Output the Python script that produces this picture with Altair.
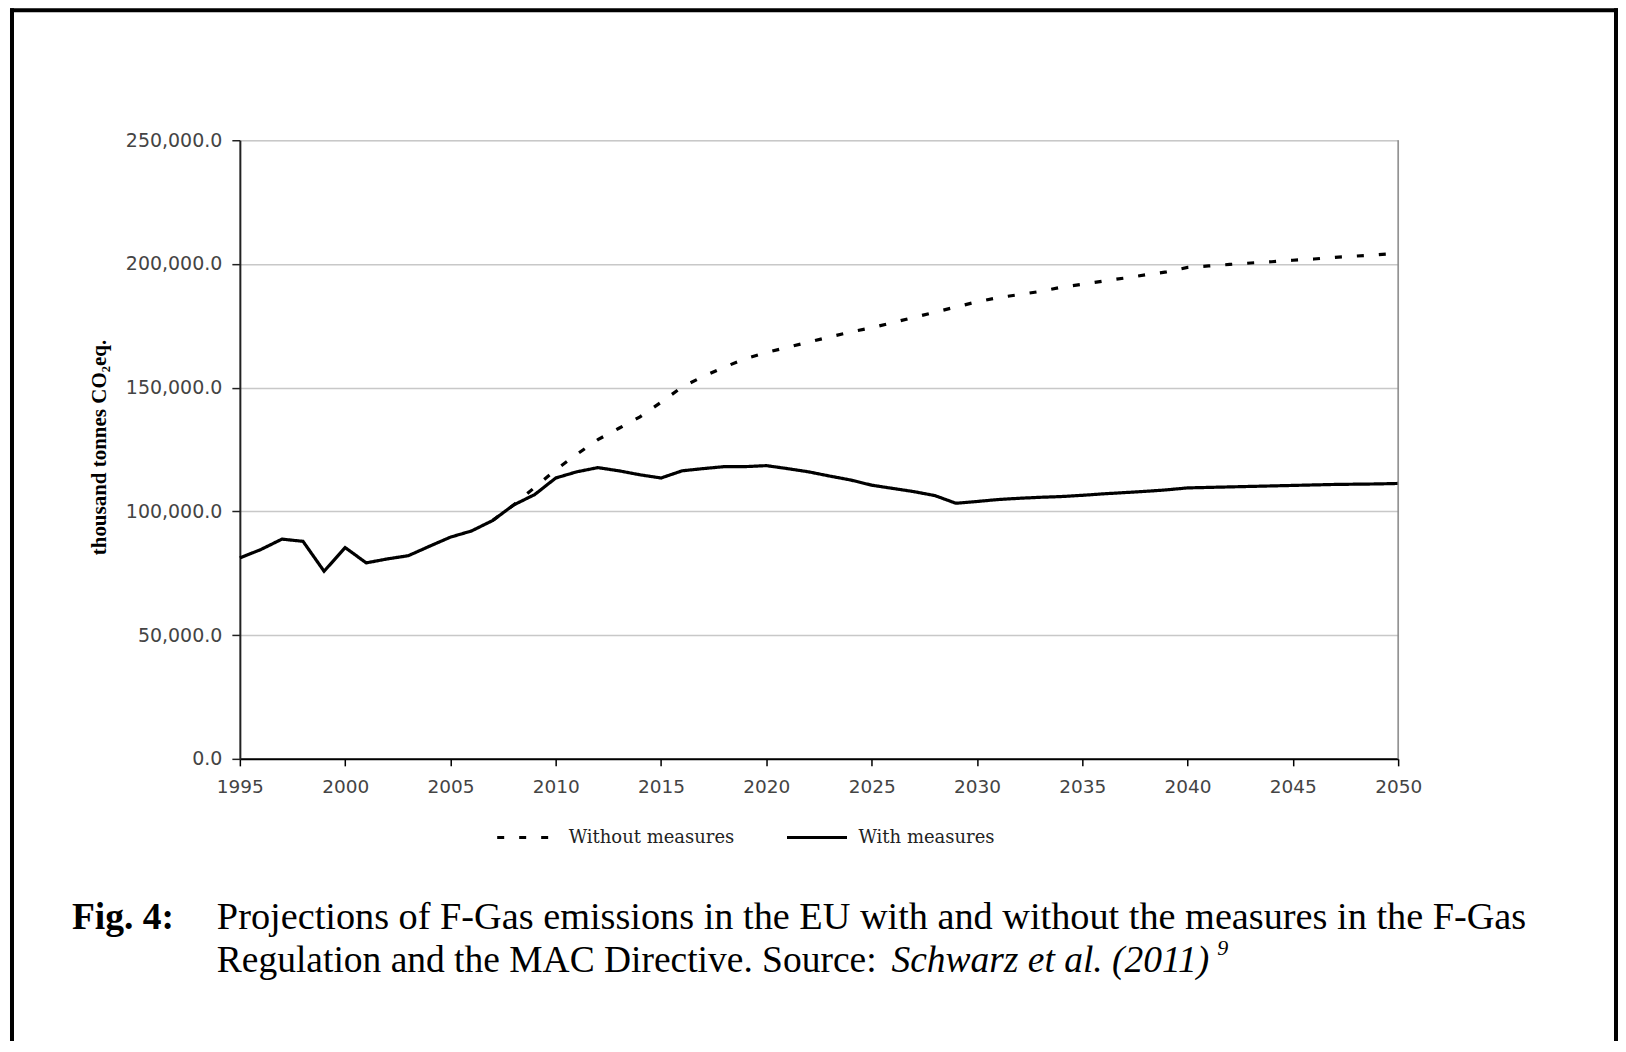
import altair as alt
import pandas as pd

# ---------------- data ----------------
years_with = list(range(1995, 2051))
with_measures = [
    81200, 84600, 88800, 87900, 75800, 85400, 79200, 80800, 82100, 85900,
    89600, 92100, 96300, 102600, 106800, 113500, 116000, 117700, 116400, 114800,
    113500, 116400, 117300, 118100, 118100, 118500, 117300, 116000, 114300, 112700,
    110600, 109300, 108000, 106400, 103300, 104000, 104800, 105300, 105700, 106000,
    106500, 107100, 107600, 108100, 108700, 109500, 109700, 109900, 110100, 110300,
    110500, 110700, 110900, 111000, 111100, 111300,
]
years_without = list(range(2007, 2051))
without_measures = [
    96300, 102600, 109700, 116800, 123100, 129000, 133600, 138200, 144100, 150300,
    154500, 158300, 161700, 164200, 166300, 168400, 170500, 172500, 174200, 176300,
    178400, 180500, 182600, 184700, 186400, 187600, 188900, 190600, 191800, 193100,
    194300, 195600, 196800, 198600, 199200, 199800, 200400, 200900, 201500, 202000,
    202700, 203200, 203700, 204300,
]
series_names = ["Without measures", "With measures"]
x_ticks = [1995, 2000, 2005, 2010, 2015, 2020, 2025, 2030, 2035, 2040, 2045, 2050]
y_ticks = [0, 50000, 100000, 150000, 200000, 250000]

y_title = "thousand tonnes CO₂eq."
cap_fig = "Fig. 4:"
cap_line1 = "Projections of F-Gas emissions in the EU with and without the measures in the F-Gas"
cap_line2 = "Regulation and the MAC Directive. Source: "
cap_italic = "Schwarz et al. (2011)"
cap_sup = "9"

df = pd.concat([
    pd.DataFrame({"year": years_without, "value": without_measures, "series": series_names[0]}),
    pd.DataFrame({"year": years_with, "value": with_measures, "series": series_names[1]}),
], ignore_index=True)

W, H = 1159, 619
one = pd.DataFrame({"k": [0]})

lines = alt.Chart(df).mark_line(color="black", strokeWidth=3.2, strokeCap="butt").encode(
    x=alt.X("year:Q",
            scale=alt.Scale(domain=[1995, 2050], nice=False, zero=False),
            axis=alt.Axis(values=x_ticks, format="d", title=None, grid=False,
                          domainColor="black", domainWidth=2, tickColor="black",
                          tickSize=7, tickWidth=1.5, labelFont="DejaVu Sans",
                          labelFontSize=18.5, labelColor="#444", labelPadding=12,
                          labelFlush=False)),
    y=alt.Y("value:Q",
            scale=alt.Scale(domain=[0, 250000], nice=False),
            axis=alt.Axis(values=y_ticks, format=",.1f", title=y_title,
                          domainColor="#222", domainWidth=2, tickColor="#222",
                          tickSize=8, tickWidth=1.5, labelFont="DejaVu Sans",
                          labelFontSize=19, labelColor="#444", labelPadding=10,
                          gridColor="#c8c8c8", gridWidth=1.5,
                          titleFont="Liberation Serif", titleFontWeight="bold",
                          titleFontSize=21, titleColor="black", titleAngle=270,
                          titleX=-134, titleY=307, titleBaseline="alphabetic",
                          titleAlign="center")),
    strokeDash=alt.StrokeDash("series:N",
                              scale=alt.Scale(domain=series_names, range=[[7, 15], [1, 0]]),
                              legend=alt.Legend(orient="none", legendX=256, legendY=666,
                                                direction="horizontal", title=None,
                                                symbolType="stroke", symbolSize=3600,
                                                symbolStrokeWidth=3, symbolStrokeColor="black",
                                                labelFont="DejaVu Serif", labelFontSize=18,
                                                labelColor="#222", labelOffset=10,
                                                labelLimit=400, columnPadding=46)),
    order=alt.Order("year:Q"),
)

right_border = alt.Chart(one).mark_rule(color="#888", strokeWidth=1.5).encode(
    x=alt.value(W), y=alt.value(0), y2=alt.value(H))

frame_left = alt.Chart(one).mark_rule(color="black", strokeWidth=4).encode(
    x=alt.value(-228), y=alt.value(-132), y2=alt.value(H + 320))
frame_right = alt.Chart(one).mark_rule(color="black", strokeWidth=4).encode(
    x=alt.value(1377), y=alt.value(-132), y2=alt.value(H + 320))
frame_top = alt.Chart(one).mark_rule(color="black", strokeWidth=4).encode(
    x=alt.value(-230), x2=alt.value(1379), y=alt.value(-130))

def txt(s, x, y, size, weight="normal", style="normal"):
    return alt.Chart(pd.DataFrame({"t": [s]})).mark_text(
        align="left", baseline="alphabetic", font="Liberation Serif",
        fontSize=size, fontWeight=weight, fontStyle=style, color="black"
    ).encode(x=alt.value(x), y=alt.value(y), text="t:N")

caption = (
    txt(cap_fig, -168, 789, 37.5, weight="bold")
    + txt(cap_line1, -23, 789, 38.3)
    + txt(cap_line2, -23, 832, 37.5)
    + txt(cap_italic, 652, 832, 37.5, style="italic")
    + txt(cap_sup, 978, 815, 22, style="italic")
)

chart = alt.layer(
    lines, right_border, frame_left, frame_right, frame_top, caption
).properties(
    width=W, height=H,
    autosize=alt.AutoSizeParams(type="none"),
    padding={"left": 232, "top": 132, "right": 220, "bottom": 282},
).configure_view(stroke=None).configure(background="white")

chart.save("out.html", embed_options={"renderer": "svg", "actions": False})
